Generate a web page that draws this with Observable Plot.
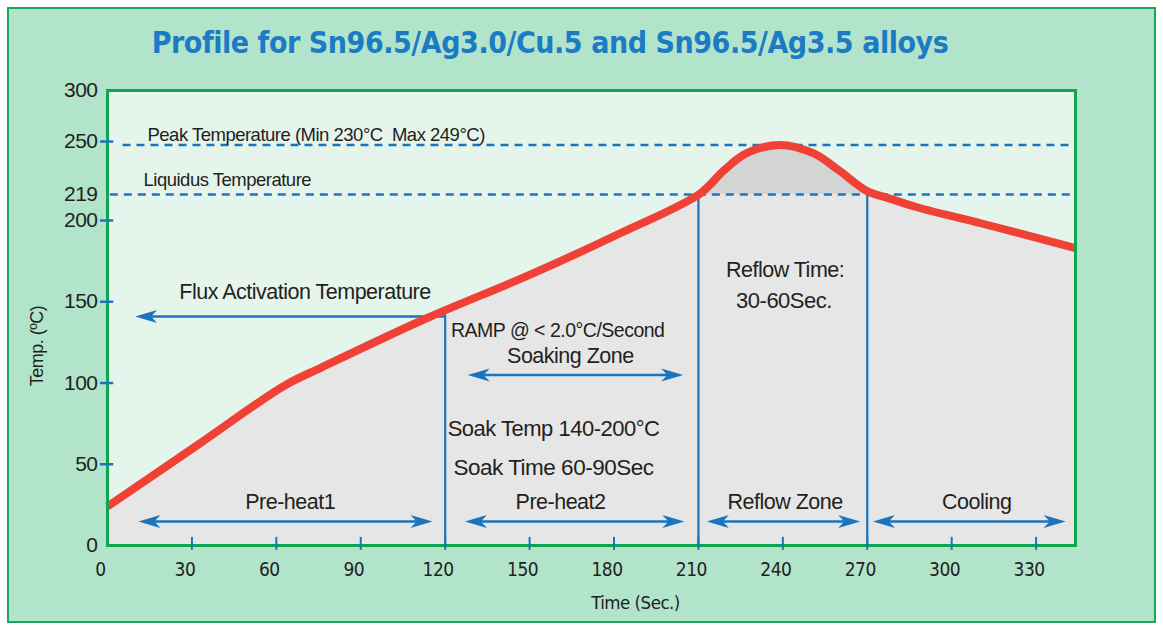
<!DOCTYPE html>
<html><head><meta charset="utf-8">
<script src="https://cdn.jsdelivr.net/npm/d3@7"></script>
<script src="https://cdn.jsdelivr.net/npm/@observablehq/plot@0.6"></script>
<style>
body{margin:0;background:#fff;}
#wrap{position:relative;width:1163px;height:630px;overflow:hidden;}
#bg{position:absolute;left:7px;top:7px;width:1149px;height:616px;background:#b2e3cb;border:2px solid #1fa55a;box-sizing:border-box;}
#title{position:absolute;left:0;top:25px;width:1100px;text-align:center;font-family:"Liberation Sans Narrow","DejaVu Sans Condensed",sans-serif;font-weight:bold;font-size:30px;color:#1b7bc4;line-height:36px;letter-spacing:-0.45px;white-space:nowrap;}
#chart{position:absolute;left:0;top:0;}
#chart svg text{letter-spacing:-0.5px;}
</style></head>
<body>
<div id="wrap"><div id="bg"></div><div id="title"></div><div id="chart"></div></div>
<script>
// ---- data ----
const titleText = "Profile for Sn96.5/Ag3.0/Cu.5 and Sn96.5/Ag3.5 alloys";
const xLabel = "Time (Sec.)";
const yLabel = "Temp. (ºC)";
const timeSec = [0, 33, 63, 76, 114, 150, 182, 210.5, 219, 227, 239, 251, 260, 270, 278, 288, 311, 344];
const tempC   = [24, 63, 98.5, 109.5, 140.3, 166.5, 192, 219.5, 233, 243, 248, 243, 233, 221, 216, 209.5, 198, 183];
const xTicks = [0, 30, 60, 90, 120, 150, 180, 210, 240, 270, 300, 330];
const xTickMarks = [30, 60, 90, 120, 150, 180, 210, 240, 270, 300, 330];
const yTicks = [0, 50, 100, 150, 200, 219, 250, 300];
const yTickMarks = [50, 100, 150, 200, 250];
const yDomain = [0, 200, 219, 250, 300];
const xDomain = [0, 344];
const dashLevel = [248, 219];
const dashStart = [5.5, 1];
const dashText = ["Peak Temperature (Min 230°C  Max 249°C)", "Liquidus Temperature"];
const dashTextTime = [14.2, 12.8];
const dashTextTemp = [256.4, 227.2];
const vLineTime = [120, 210, 270];
const vLineTop = [142, 219, 219];
const reflowStart = 210.5, reflowEnd = 270;
const zoneNames = ["Pre-heat1", "Pre-heat2", "Reflow Zone", "Cooling"];
const zoneStart = [11, 127, 213, 272];
const zoneEnd = [115.5, 205, 267.5, 340.5];
const zoneTextTime = [64.9, 161, 240.8, 308.9];
const zoneArrowTemp = 14.8;
const zoneTextTemp = 26.5;
const soakArrow = {start: 128, end: 204.6, temp: 105};
const fluxArrow = {start: 120, end: 9.8, temp: 141};
const notes = ["Flux Activation Temperature", "RAMP @ < 2.0°C/Second", "Soaking Zone", "Soak Temp 140-200°C", "Soak Time 60-90Sec", "Reflow Time:", "30-60Sec."];
const noteTime = [70.2, 160, 164.5, 158.5, 158.5, 240.8, 240.4];
const noteTemp = [155.7, 132.3, 116.3, 72, 48, 169.2, 150.2];
const noteSize = [21.5, 19.5, 21.5, 22, 22.5, 21.5, 22];

// ---- build ----
document.getElementById("title").textContent = titleText;
const BLUE = "#1c75bc", RED = "#ef4136", INK = "#231f20";
const NARROW = "'Liberation Sans Narrow', 'DejaVu Sans Condensed', sans-serif";
const curve = timeSec.map((t, i) => ({t, v: tempC[i]}));
const reflowPart = curve.filter(d => d.t >= reflowStart && d.t <= reflowEnd);
const vlines = vLineTime.map((t, i) => ({t, top: vLineTop[i]}));
const dashes = dashLevel.map((v, i) => ({v, s: dashStart[i]}));
const dashLabels = dashText.map((s, i) => ({s, t: dashTextTime[i], v: dashTextTemp[i]}));
const zones = zoneNames.map((name, i) => ({name, a: zoneStart[i], b: zoneEnd[i], mid: zoneTextTime[i]}));
const dblArrows = zones.map(z => ({a: z.a, b: z.b, v: zoneArrowTemp})).concat([{a: soakArrow.start, b: soakArrow.end, v: soakArrow.temp}]);
const heads = [];
dblArrows.forEach(d => { heads.push({t: d.a, v: d.v, r: 180}); heads.push({t: d.b, v: d.v, r: 0}); });
heads.push({t: fluxArrow.end, v: fluxArrow.temp, r: 180});
const noteData = notes.map((s, i) => ({s, t: noteTime[i], v: noteTemp[i], size: noteSize[i]}));

const dart = {
  draw(ctx) {
    const L = 22, W = 6.5, N = 6;
    ctx.moveTo(0, 0);
    ctx.lineTo(-L, -W);
    ctx.lineTo(-L + N, 0);
    ctx.lineTo(-L, W);
    ctx.closePath();
  }
};

const chart = Plot.plot({
  width: 1163,
  height: 630,
  marginLeft: 107,
  marginRight: 88,
  marginTop: 90,
  marginBottom: 85,
  style: {background: "transparent", color: INK, fontFamily: "'Liberation Sans', Arial, sans-serif", overflow: "visible"},
  x: {type: "linear", domain: xDomain, axis: null},
  y: {type: "linear", domain: yDomain, range: [545, 220, 194, 141, 90], axis: null},
  marks: [
    Plot.frame({fill: "#e5f5ec", stroke: null}),
    Plot.areaY(curve, {x: "t", y1: 0, y2: "v", fill: "#e6e6e6", curve: "catmull-rom"}),
    Plot.areaY(reflowPart, {x: "t", y1: dashLevel[1], y2: "v", fill: "#d3d4d4", curve: "catmull-rom"}),
    Plot.ruleY(dashes, {y: "v", x1: "s", x2: xDomain[1], stroke: BLUE, strokeWidth: 2.5, strokeDasharray: "8,6"}),
    Plot.text(dashLabels, {x: "t", y: "v", text: "s", textAnchor: "start", fontSize: 18.5, fill: INK}),
    Plot.ruleX(vlines, {x: "t", y1: 0, y2: "top", stroke: BLUE, strokeWidth: 2.2}),
    Plot.ruleY(dblArrows, {y: "v", x1: "a", x2: "b", stroke: BLUE, strokeWidth: 2.5, insetLeft: 12, insetRight: 12}),
    Plot.ruleY([fluxArrow], {y: "temp", x1: "end", x2: "start", stroke: BLUE, strokeWidth: 2.5, insetLeft: 12}),
    Plot.dot(heads, {x: "t", y: "v", rotate: "r", r: 5, symbol: dart, fill: BLUE, stroke: null}),
    Plot.text(zones, {x: "mid", y: zoneTextTemp, text: "name", fontSize: 21.5, fill: INK}),
    Plot.text(noteData, {x: "t", y: "v", text: "s", fontSize: d => d.size, fill: INK}),
    Plot.line(curve, {x: "t", y: "v", stroke: RED, strokeWidth: 8, curve: "catmull-rom", strokeLinecap: "butt"}),
    Plot.frame({stroke: "#12a550", strokeWidth: 3}),
    Plot.ruleX(xTickMarks, {x: d => d, y1: -3, y2: 5, stroke: BLUE, strokeWidth: 2}),
    Plot.ruleY(yTickMarks, {y: d => d, x1: -2.5, x2: 2.2, stroke: BLUE, strokeWidth: 2.5}),
    Plot.axisY({ticks: yTicks, tickSize: 0, tickPadding: 10, fontSize: 21, label: null, tickFormat: d => String(d)}),
    Plot.axisX({ticks: xTicks, tickSize: 0, tickPadding: 17, fontSize: 19, label: null, dx: -7, fontFamily: NARROW, tickFormat: d => String(d)}),
    Plot.text([xLabel], {frameAnchor: "bottom", text: d => d, dx: 44, dy: 63, fontSize: 18.5, fontFamily: NARROW, fill: INK}),
    Plot.text([yLabel], {frameAnchor: "left", textAnchor: "middle", text: d => d, rotate: -90, dx: -70, dy: 28, fontSize: 18, fill: INK})
  ]
});
document.getElementById("chart").appendChild(chart);
</script>
</body></html>
